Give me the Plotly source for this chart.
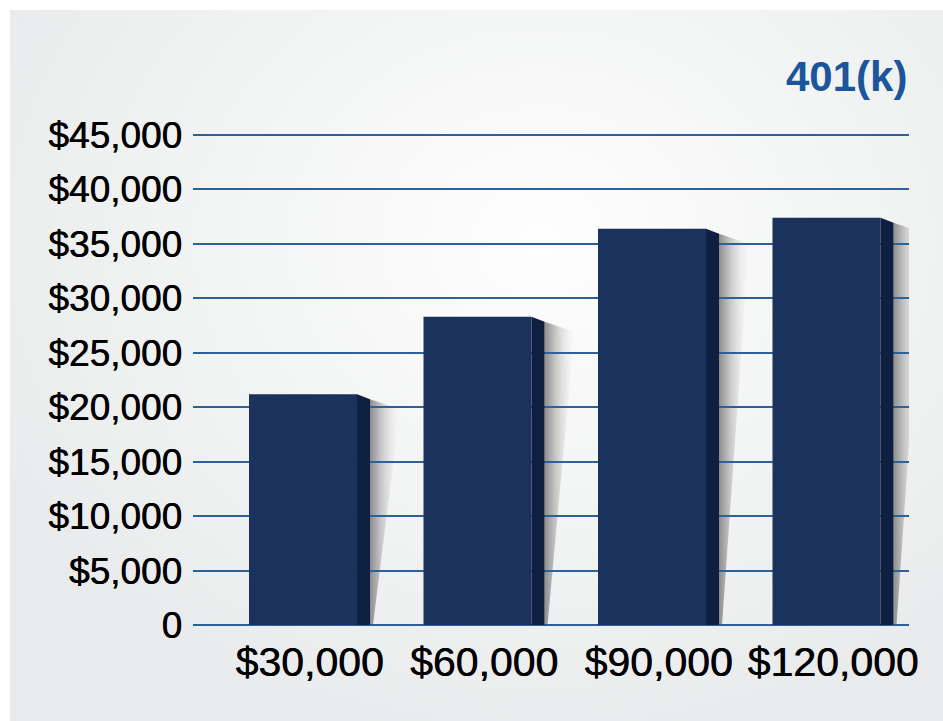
import plotly.graph_objects as go

# ---- data ----
income_labels = ["$30,000", "$60,000", "$90,000", "$120,000"]
savings_401k = [21200, 28300, 36400, 37400]
y_tick_values = [0, 5000, 10000, 15000, 20000, 25000, 30000, 35000, 40000, 45000]
y_tick_labels = ["0", "$5,000", "$10,000", "$15,000", "$20,000", "$25,000",
                 "$30,000", "$35,000", "$40,000", "$45,000"]
chart_title = "401(k)"

# ---- geometry / style ----
W, H = 943, 721
PX_X = 174.5               # px per category
PX_Y = 490 / 45000.0       # px per dollar
Y_MAX = 45100
front_off, front_w = -0.3467, 0.619
side_w = 13 / PX_X
side_drop = 5 / PX_Y
sh_top_w = 30 / PX_X
sh_bot_w = 3 / PX_X
sh_drop = 15 / PX_Y
FRONT = "#1b325c"
SIDE = "#0e1f41"
GRID = "#2e609a"
FONT = "Liberation Sans, Arial, sans-serif"
HEAVY = "0.6px 0 0 #000"

xs = list(range(len(savings_401k)))
fig = go.Figure()

# background panel with radial gradient (subplot xy, pixel coordinates)
cx, cy, rx, ry = 540, 240, 620, 520
fig.add_trace(go.Scatter(
    x=[cx - rx, cx + rx, cx + rx, cx - rx, cx - rx],
    y=[cy - ry, cy - ry, cy + ry, cy + ry, cy - ry],
    mode="lines", line=dict(width=0), fill="toself",
    fillgradient=dict(type="radial",
                      colorscale=[[0, "#fefefe"], [0.45, "#f4f5f5"], [1, "#e9eaeb"]]),
    hoverinfo="skip", showlegend=False, xaxis="x", yaxis="y"))

# shadows (subplot x2y2, below the main grid)
for x, v in zip(xs, savings_401k):
    r = x + front_off + front_w + side_w
    fig.add_trace(go.Scatter(
        x=[r, r + sh_top_w, r + sh_bot_w, r, r],
        y=[v - side_drop, v - sh_drop, 0, 0, v - side_drop],
        mode="lines", line=dict(width=0), fill="toself",
        fillgradient=dict(type="horizontal",
                          colorscale=[[0, "#8e8e8e"], [0.35, "#c4c4c4"], [1, "rgba(245,245,245,0.2)"]]),
        hoverinfo="skip", showlegend=False, xaxis="x2", yaxis="y2"))

# bar fronts (subplot x3y3)
fig.add_trace(go.Bar(
    x=xs, y=savings_401k, width=front_w, offset=front_off,
    marker=dict(color=FRONT, line=dict(width=0)),
    showlegend=False, xaxis="x3", yaxis="y3"))

# bar sides
for x, v in zip(xs, savings_401k):
    l = x + front_off + front_w
    fig.add_trace(go.Scatter(
        x=[l, l + side_w, l + side_w, l, l],
        y=[v, v - side_drop, 0, 0, v],
        mode="lines", line=dict(width=0), fill="toself", fillcolor=SIDE,
        hoverinfo="skip", showlegend=False, xaxis="x3", yaxis="y3"))

xr = [(193 - 309.5) / PX_X, (909 - 309.5) / PX_X]
xdom = [193 / W, 909 / W]
top_px = 625 - Y_MAX * PX_Y
ydom = [(H - 625) / H, (H - top_px) / H]

fig.update_layout(
    template="none",
    width=W, height=H, margin=dict(l=0, r=0, t=0, b=0, pad=0), autosize=False,
    paper_bgcolor="white", plot_bgcolor="rgba(0,0,0,0)",
    showlegend=False,
    xaxis=dict(domain=[10 / W, 1], range=[10, W], visible=False, fixedrange=True, automargin=False),
    yaxis=dict(domain=[0, (H - 10) / H], range=[H, 10], visible=False, fixedrange=True, automargin=False),
    xaxis2=dict(domain=xdom, range=xr, visible=False, anchor="y2", automargin=False),
    yaxis2=dict(domain=ydom, range=[0, Y_MAX], visible=False, anchor="x2", automargin=False),
    xaxis3=dict(domain=xdom, range=xr, anchor="y3", automargin=False,
                tickvals=xs, ticktext=income_labels, showgrid=False, zeroline=False,
                showline=False, ticks="", ticklabelstandoff=9,
                tickfont=dict(family=FONT, size=41, color="black", shadow=HEAVY)),
    yaxis3=dict(domain=ydom, range=[0, Y_MAX], anchor="x3", automargin=False,
                tickvals=y_tick_values, ticktext=y_tick_labels,
                showgrid=True, gridcolor=GRID, gridwidth=1.5,
                zeroline=True, zerolinecolor=GRID, zerolinewidth=1.5,
                showline=False, ticks="", ticklabelstandoff=10,
                tickfont=dict(family=FONT, size=37, color="black", shadow=HEAVY)),
    annotations=[dict(text="<b>" + chart_title + "</b>", xref="paper", yref="paper",
                      x=909 / W, y=1 - 77 / H, xanchor="right", yanchor="middle",
                      showarrow=False,
                      font=dict(family=FONT, size=42, color="#1b559b"))],
)

fig.write_html("out.html")
